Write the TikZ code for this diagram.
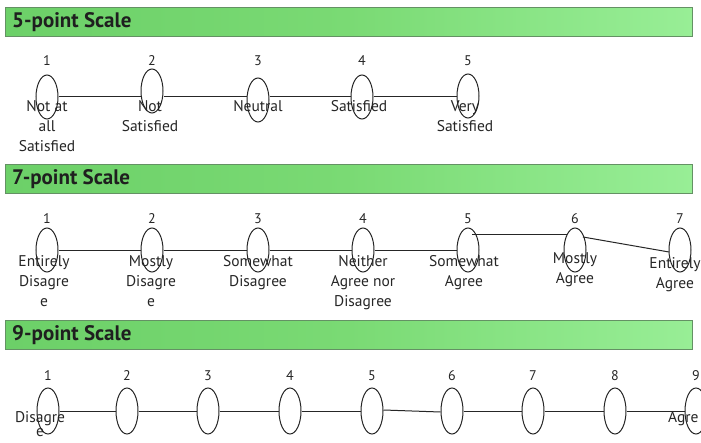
\documentclass[tikz,border=0pt]{standalone}
\usepackage{fontspec}
\setmainfont{PT Sans}
\usetikzlibrary{shapes.geometric,calc}
\definecolor{barL}{RGB}{108,208,104}
\definecolor{barM}{RGB}{122,218,116}
\definecolor{barR}{RGB}{152,238,150}
\definecolor{barB}{RGB}{100,145,100}
\tikzset{
  bar/.style={draw=barB, line width=0.8pt, left color=barL, right color=barR, middle color=barM, minimum height=29pt, minimum width=687pt, anchor=north west, inner sep=0pt},
  bartitle/.style={font=\fontsize{21}{21}\selectfont\bfseries, text=black!88, anchor=west, inner sep=0pt},
  pt/.style={draw=black!85, line width=1pt, ellipse, minimum width=22pt, minimum height=44pt, inner sep=0pt},
  num/.style={font=\fontsize{14}{14}\selectfont, text=black!85, inner sep=0pt},
  lbl/.style={font=\fontsize{15.5}{20}\selectfont, text=black!85, align=center, inner sep=0pt, anchor=north},
  conn/.style={draw=black!85, line width=1pt}
}
\begin{document}
\begin{tikzpicture}[x=1pt,y=-1pt]
\useasboundingbox (0,0) rectangle (701,443);
\fill[white] (0,0) rectangle (701,443);
% ---------- 5-point ----------
\node[bar] (b5) at (5,7) {};
\node[bartitle] (t5) at (12,22) {5-point Scale};
\foreach \i/\x/\y in {1/47/97,2/152/91,3/258/100,4/362/97,5/468/96}{
  \node[pt] (a\i) at (\x,\y) {};
  \node[num] (an\i) at (\x,61) {\i};
}
\draw[conn] (a1.east) -- (a2.west |- a1.east);
\draw[conn] (a2.east |- a1.east) -- (a3.west |- a1.east);
\draw[conn] (a3.east |- a1.east) -- (a4.west |- a1.east);
\draw[conn] (a4.east |- a1.east) -- (a5.west |- a1.east);
\node[lbl] (al1) at (47,100) {Not at\\all\\Satisfied};
\node[lbl] (al2) at (150,100) {Not\\Satisfied};
\node[lbl] (al3) at (258,100) {Neutral};
\node[lbl] (al4) at (359,100) {Satisfied};
\node[lbl] (al5) at (465,100) {Very\\Satisfied};
% ---------- 7-point ----------
\node[bar] (b7) at (5,164) {};
\node[bartitle] (t7) at (12,179) {7-point Scale};
\foreach \i/\x in {1/47,2/152,3/258,4/363,5/468,6/575,7/680}{
  \node[pt] (c\i) at (\x,250) {};
  \node[num] (cn\i) at (\x,219) {\i};
}
\draw[conn] ($(c1.east)+(0,1)$) -- ($(c2.west)+(0,1)$);
\draw[conn] ($(c2.east)+(0,1)$) -- ($(c3.west)+(0,1)$);
\draw[conn] ($(c3.east)+(0,1)$) -- ($(c4.west)+(0,1)$);
\draw[conn] ($(c4.east)+(0,1)$) -- ($(c5.west)+(0,1)$);
\draw[conn] ($(c5.center)+(4,-15)$) -- ($(c6.center)+(-8,-15)$);
\draw[conn] ($(c6.center)+(8,-13)$) -- ($(c7.center)+(-11,2)$);
\node[lbl] (cl1) at (44,255) {Entirely\\Disagre\\e};
\node[lbl] (cl2) at (151,255) {Mostly\\Disagre\\e};
\node[lbl] (cl3) at (258,255) {Somewhat\\Disagree};
\node[lbl] (cl4) at (363,255) {Neither\\Agree nor\\Disagree};
\node[lbl] (cl5) at (464,255) {Somewhat\\Agree};
\node[lbl] (cl6) at (575,252) {Mostly\\Agree};
\node[lbl] (cl7) at (675,257) {Entirely\\Agree};
% ---------- 9-point ----------
\node[bar] (b9) at (5,320) {};
\node[bartitle] (t9) at (12,335) {9-point Scale};
\foreach \i/\x in {1/48,2/127,3/208,4/290,5/372,6/452,7/533,8/615,9/696}{
  \node[pt, minimum height=46pt] (d\i) at (\x,411) {};
  \node[num] (dn\i) at (\x,376) {\i};
}
\foreach \i/\j in {1/2,2/3,3/4,4/5,6/7,7/8,8/9}{
  \draw[conn] (d\i.east) -- (d\j.west);
}
\draw[conn] ($(d5.east)+(0,-1)$) -- ($(d6.west)+(0,1)$);
\node[lbl, font=\fontsize{15.5}{14}\selectfont] (dl1) at (40,411) {Disagre\\e};
\node[lbl, anchor=north west] (dl9) at (668,411) {Agre};
\end{tikzpicture}
\end{document}
